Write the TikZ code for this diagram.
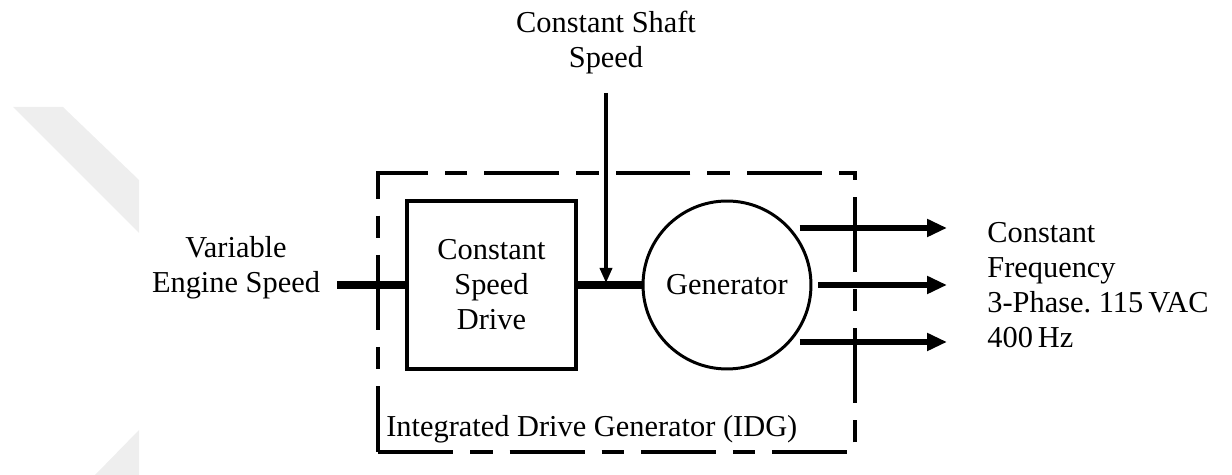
\documentclass[tikz,border=0pt]{standalone}
\usepackage{fontspec}
\setmainfont{Liberation Serif}
\usepackage{tikz}
\usetikzlibrary{arrows.meta}
\definecolor{markgray}{RGB}{238,238,238}

\begin{document}
\begin{tikzpicture}[x=0.02cm, y=-0.02cm,
    font=\fontsize{17.3}{19.9}\selectfont,
    blockbox/.style={draw, line width=2.3pt, rectangle, minimum width=3.38cm, minimum height=3.36cm, align=center},
    genbox/.style={draw, line width=1.7pt, circle, minimum size=3.36cm, inner sep=0pt},
    idgbox/.style={draw, line width=2.3pt, rectangle, minimum width=9.54cm, minimum height=5.58cm,
        dash pattern=on 1.5cm off 0.34cm on 0.45cm off 0.34cm},
    shaft/.style={line width=4pt},
    outarrow/.style={line width=3.1pt, -{Triangle[length=0.4cm, width=0.34cm]}},
    inarrow/.style={line width=2pt, -{Triangle[length=0.3cm, width=0.24cm]}}]
    \useasboundingbox (0,0) rectangle (1232,475);

    % faint watermark
    \fill[markgray] (13,107) -- (63,107) -- (139,180) -- (139,233) -- cycle;
    \fill[markgray] (139,430) -- (139,475) -- (95,475) -- cycle;

    \node[idgbox] (idg) at (616.5,312.5) {};
    \node[blockbox] (csd) at (491.5,285) {Constant\\Speed\\Drive};
    \node[genbox] (gen) at (727,285) {Generator};

    \coordinate (vin) at (337,285);
    \coordinate (shtop) at (606,93);
    \coordinate (shjoin) at (606,283);
    \coordinate (o1) at (947,228);
    \coordinate (o2) at (947,285);
    \coordinate (o3) at (947,342);

    \draw[shaft] (vin) -- (csd.west);
    \draw[shaft] (csd.east) -- (gen.west);
    \draw[inarrow] (shtop) -- (shjoin);
    \draw[outarrow, shorten <=0.2cm] (o1 -| gen.43) -- (o1);
    \draw[outarrow, shorten <=0.12cm] (gen.east) -- (o2);
    \draw[outarrow, shorten <=0.2cm] (o3 -| gen.-43) -- (o3);

    \node[align=center] (vlabel) at (236,268) {Variable\\Engine Speed};
    \node[align=center] (slabel) at (606,43) {Constant Shaft\\Speed};
    \node[align=left, anchor=west, inner sep=0pt] (olabel) at (987,285) {Constant\\Frequency\\3-Phase.\ 115\,VAC\\400\,Hz};
    \node[anchor=west, inner sep=0pt] (ilabel) at (386,429) {Integrated Drive Generator (IDG)};
\end{tikzpicture}
\end{document}
